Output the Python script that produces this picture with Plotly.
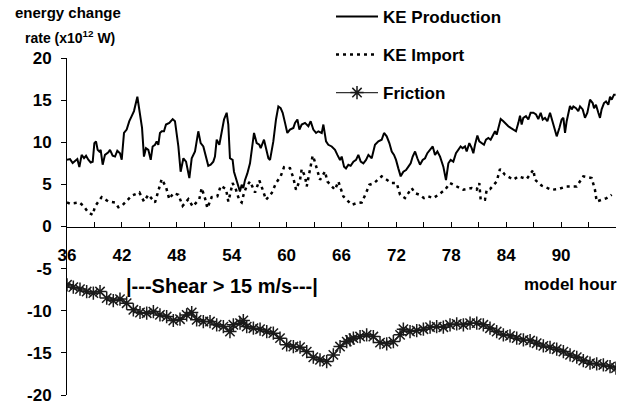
import plotly.graph_objects as go

# ---------------- data ----------------
prod_hours = [36.0, 36.33, 36.62, 36.87, 37.13, 37.35, 37.6, 37.86, 38.08, 38.33, 38.59, 38.81, 38.99, 39.17, 39.35, 39.53, 39.68, 39.9, 40.15, 40.52, 40.7, 40.99, 41.25, 41.5, 41.79, 41.98, 42.23, 42.52, 42.81, 43.07, 43.32, 43.69, 43.98, 44.2, 44.41, 44.63, 44.89, 45.15, 45.36, 45.62, 45.8, 45.98, 46.16, 46.35, 46.6, 46.82, 47.18, 47.55, 47.8, 47.98, 48.17, 48.42, 48.72, 49.01, 49.37, 49.63, 49.99, 50.35, 50.61, 50.9, 51.15, 51.44, 51.7, 51.99, 52.17, 52.36, 52.65, 52.9, 53.16, 53.45, 53.63, 53.81, 54.1, 54.25, 54.54, 54.9, 55.09, 55.27, 55.45, 55.71, 56.0, 56.29, 56.44, 56.73, 57.02,
              57.17, 57.53, 57.75, 58.01, 58.19, 58.55, 58.84, 59.1, 59.35, 59.57, 59.83, 60.08, 60.37, 60.74, 60.92, 61.18, 61.4, 61.65, 62.01, 62.38, 62.63, 62.92, 63.22, 63.47, 63.84, 64.02, 64.31, 64.56, 64.93, 65.29, 65.55, 65.84, 66.02, 66.28, 66.49, 66.75, 67.0, 67.3, 67.59, 67.84, 68.1, 68.39, 68.68, 68.94, 69.3, 69.66, 70.03, 70.39, 70.65, 70.94, 71.23, 71.49, 71.74, 71.96, 72.21, 72.47, 72.76, 73.05, 73.31, 73.56, 73.78, 74.04, 74.29, 74.58, 74.87, 75.13, 75.38, 75.68, 75.97, 76.22, 76.48, 76.77,
              76.84, 77.13, 77.42, 77.68, 77.93, 78.22, 78.51, 78.77, 79.02, 79.24, 79.5, 79.68, 79.97, 80.23, 80.41, 80.59, 80.85, 81.06, 81.32, 81.57, 81.79, 82.05, 82.3, 82.52, 82.78, 82.96, 83.14, 83.4, 83.69, 83.98, 84.23, 84.49, 84.78, 85.07, 85.33, 85.51, 85.69, 85.87, 86.16, 86.42, 86.67, 86.97, 87.26, 87.51, 87.77, 87.99, 88.24, 88.5, 88.79, 89.08, 89.33, 89.52, 89.81, 90.06, 90.25, 90.43, 90.61, 90.79, 90.97, 91.16, 91.34, 91.63, 91.88, 92.07, 92.36, 92.61, 92.87, 93.16, 93.45, 93.6, 93.81, 94.07, 94.25, 94.43, 94.69, 94.91, 95.16, 95.35, 95.53, 95.78, 95.96]
ke_production = [7.92, 8.0, 7.53, 7.72, 8.0, 7.05, 8.5, 8.12, 8.4, 7.92, 7.6, 7.68, 9.9, 10.1, 9.1, 8.9, 9.1, 7.33, 8.5, 8.8, 9.1, 8.4, 8.3, 9.0, 8.7, 7.92, 11.1, 11.5, 12.5, 13.1, 13.7, 15.4, 13.5, 11.7, 8.3, 9.3, 9.1, 7.92, 9.5, 9.7, 10.1, 9.7, 11.1, 11.3, 11.3, 12.1, 12.3, 12.75, 12.5, 11.3, 9.5, 6.5, 8.1, 7.7, 5.75, 8.1, 8.9, 11.3, 9.9, 9.5, 8.5, 7.2, 7.33, 7.7, 8.3, 10.3, 9.7, 11.1, 12.7, 13.5, 12.1, 8.1, 7.9, 6.5, 5.5, 4.15, 4.95, 4.55, 5.5, 6.3, 7.5, 9.7, 11.1, 9.9, 9.7,
                 9.3, 10.3, 9.3, 8.1, 7.9, 10.1, 12.7, 14.25, 14.05, 13.5, 12.3, 11.1, 11.5, 11.7, 12.3, 12.7, 11.5, 12.1, 12.3, 11.9, 12.5, 11.5, 11.1, 11.3, 11.1, 12.1, 10.1, 9.7, 9.5, 9.1, 8.5, 7.9, 8.3, 7.1, 6.9, 7.33, 7.2, 7.7, 7.9, 8.5, 7.7, 7.5, 7.9, 8.5, 8.1, 9.7, 10.1, 10.3, 11.1, 10.7, 9.9, 8.9, 8.5, 7.9, 6.9, 5.95, 6.5, 6.7, 7.1, 7.5, 8.3, 8.9, 8.1, 7.33, 7.9, 8.1, 8.7, 9.1, 9.5, 8.5, 8.9, 8.3,
                 8.1, 7.1, 5.5, 7.5, 7.9, 7.7, 8.7, 9.1, 9.5, 9.3, 9.5, 8.9, 9.9, 9.3, 8.7, 9.7, 10.8, 10.1, 9.9, 9.7, 10.3, 10.5, 10.3, 10.7, 11.3, 10.9, 11.6, 12.75, 12.5, 12.1, 11.9, 11.7, 11.5, 11.3, 12.3, 13.15, 12.1, 12.9, 13.1, 12.7, 13.5, 13.5, 13.3, 12.75, 13.5, 12.7, 12.9, 12.5, 13.5, 12.5, 11.5, 10.7, 11.7, 12.7, 12.9, 11.1, 12.5, 13.5, 14.3, 13.9, 14.25, 14.05, 13.7, 14.25, 13.9, 12.9, 13.5, 15.05, 14.65, 14.05, 14.45, 13.5, 12.9, 13.9, 14.65, 14.85, 14.45, 15.4, 15.05, 15.65, 15.65]

import_hours = [36.0, 36.33, 37.35, 37.79, 38.33, 38.81, 39.06, 39.79, 40.52, 41.25, 41.61, 41.98, 43.07, 43.91, 44.41, 44.89, 45.62, 45.98, 46.35, 46.82, 47.18, 47.62, 48.17, 48.64, 49.26, 49.74, 50.46, 50.72, 51.08, 51.34, 51.81, 52.43, 52.8, 53.38, 53.63, 53.81, 54.1, 54.47, 54.83, 55.09, 55.34, 55.63, 56.0, 56.55, 57.02,
                57.39, 57.75, 58.37, 58.84, 59.35, 59.72, 60.37, 60.74, 61.03, 61.47, 61.65, 62.01, 62.2, 62.63, 62.85, 63.0, 63.29, 63.65, 64.2, 64.45, 65.29, 65.66, 66.2, 67.11, 67.66, 68.21, 68.68, 69.04, 69.55, 70.39, 71.49, 72.03, 72.4, 72.94, 73.67, 74.04, 74.51, 75.02, 75.49, 76.04, 76.59,
                77.31, 77.86, 78.41, 79.32, 80.23, 80.77, 81.06, 81.21, 81.68, 81.87, 82.23, 82.96, 83.32, 83.87, 84.78, 85.33, 86.24, 86.97, 87.15, 87.88, 88.97, 89.7, 90.61, 91.16, 91.7, 92.43, 93.34, 93.7, 93.89, 94.43, 94.98, 95.53]
ke_import = [2.85, 2.7, 2.85, 2.45, 1.66, 1.38, 2.38, 3.49, 2.97, 2.85, 2.3, 2.45, 3.65, 4.04, 2.97, 3.77, 2.85, 4.16, 5.63, 4.68, 3.25, 3.96, 3.77, 2.45, 3.25, 2.38, 3.25, 4.56, 3.37, 2.18, 3.49, 3.57, 4.84, 4.44, 2.97, 3.77, 5.15, 4.36, 3.1, 2.85, 3.96, 4.76, 5.35, 4.04, 5.47,
             4.36, 3.17, 3.96, 5.15, 5.95, 7.05, 6.93, 5.75, 4.36, 5.55, 6.81, 5.95, 4.76, 7.33, 8.4, 8.0, 6.93, 5.55, 6.54, 5.35, 4.36, 5.35, 3.57, 2.58, 2.77, 2.85, 3.96, 4.95, 5.15, 5.95, 5.15, 5.15, 3.77, 3.37, 4.56, 3.96, 3.77, 3.37, 3.57, 3.37, 3.77,
             4.36, 5.15, 4.84, 4.36, 4.56, 4.36, 5.15, 3.17, 3.17, 4.36, 4.44, 5.35, 6.81, 6.14, 5.55, 5.95, 5.63, 6.73, 5.55, 4.84, 4.36, 4.44, 4.76, 4.76, 4.76, 5.95, 5.75, 4.36, 2.97, 3.17, 3.37, 3.77]

fric_hours = [36.0, 36.69, 37.42, 38.15, 38.88, 39.61, 40.34, 41.06, 41.79, 42.52, 43.25, 43.98, 44.71, 45.44, 46.16, 46.89, 47.62, 48.35, 49.08, 49.63, 50.17, 50.9, 51.63, 52.36, 53.09, 53.81, 54.18, 54.91, 55.27, 55.64, 56.37, 57.1, 57.83, 58.55, 59.28, 60.01, 60.74, 61.47, 62.2, 62.92, 63.65, 64.38, 65.11, 65.84, 66.57, 66.93,
              67.3, 68.03, 68.75, 69.48, 70.21, 70.94, 71.67, 72.4, 72.76, 73.49, 74.22, 74.95, 75.68, 76.4, 77.13, 77.86, 78.59, 79.32, 80.05, 80.78, 81.5, 82.23, 82.96, 83.69, 84.42, 85.15, 85.88, 86.61, 87.33, 88.06, 88.79, 89.52, 90.25, 90.98, 91.71, 92.43, 93.16, 93.89, 94.62, 95.35, 96.0]
friction = [-6.92, -7.2, -7.43, -7.72, -7.91, -7.72, -8.5, -8.79, -8.62, -9.1, -9.89, -10.21, -10.29, -10.1, -10.49, -10.69, -11.16, -11.0, -10.49, -10.21, -11.08, -11.28, -11.28, -11.67, -11.88, -12.47, -11.67, -11.47, -11.16, -11.88, -12.07, -12.19, -12.47, -12.66, -13.25, -14.05, -14.25, -14.33, -14.85, -15.52, -15.83, -16.03, -15.24, -14.25, -13.66, -13.46,
            -13.25, -13.06, -12.86, -13.06, -13.78, -13.93, -13.66, -12.86, -12.19, -12.47, -12.35, -12.19, -11.95, -11.88, -11.95, -11.67, -11.56, -11.67, -11.47, -11.47, -11.67, -12.07, -12.47, -12.86, -12.98, -13.25, -13.46, -13.54, -13.85, -14.17, -14.33, -14.56, -14.85, -15.24, -15.52, -15.91, -16.22, -16.31, -16.43, -16.63, -16.8]

x_label_vals = [36, 42, 48, 54, 60, 66, 72, 78, 84, 90]
x_label_text = ["36", "42", "48", "54", "60", "66", "72", "78", "84", "90"]
x_minor_vals = [39, 45, 51, 57, 63, 69, 75, 81, 87, 93, 96]
y_tick_vals = [20, 15, 10, 5, 0, -5, -10, -15, -20]
y_tick_text = ["20", "15", "10", "5", "0", "-5", "-10", "-15", "-20"]

FONT = "Liberation Sans, Arial, sans-serif"
L, R, T, B, W, H = 67, 17, 58, 11, 633, 406
PW, PH = W - L - R, H - T - B


def px(x):
    return (x - L) / PW


def py(y):
    return (H - B - y) / PH


fig = go.Figure()
fig.add_trace(go.Scatter(x=prod_hours, y=ke_production, mode="lines", name="KE Production",
                         line=dict(color="black", width=2), legend="legend"))
fig.add_trace(go.Scatter(x=import_hours, y=ke_import, mode="lines", name="KE Import",
                         line=dict(color="black", width=2.5, dash="3px,4px"), legend="legend2"))
fig.add_trace(go.Scatter(x=fric_hours, y=friction, mode="lines+markers", name="Friction",
                         line=dict(color="#333333", width=1.2), legend="legend3",
                         marker=dict(symbol="asterisk-open", size=11, color="#1a1a1a",
                                     line=dict(width=1.5, color="#1a1a1a"))))

leg_common = dict(x=px(331), xanchor="left", yanchor="middle",
                  bgcolor="rgba(0,0,0,0)", borderwidth=0, itemwidth=42,
                  font=dict(family=FONT, size=17, weight="bold", color="black"))

fig.update_layout(
    width=W, height=H,
    margin=dict(l=L, r=R, t=T, b=B, autoexpand=False),
    paper_bgcolor="white", plot_bgcolor="white",
    font=dict(family=FONT, color="black", size=16, weight="bold"),
    showlegend=True,
    legend=dict(y=py(17), **leg_common),
    legend2=dict(y=py(55), **leg_common),
    legend3=dict(y=py(93), **leg_common),
    xaxis=dict(range=[36, 96], anchor="free", position=0.5,
               tickmode="array", tickvals=x_label_vals, ticktext=x_label_text,
               ticks="inside", ticklen=5, tickcolor="black", tickwidth=1,
               showline=True, linecolor="black", linewidth=1,
               showgrid=False, zeroline=False,
               ticklabelstandoff=13,
               tickfont=dict(family=FONT, size=17, weight="bold"),
               minor=dict(tickvals=x_minor_vals, ticks="inside", ticklen=5,
                          tickcolor="black", tickwidth=1, showgrid=False)),
    yaxis=dict(range=[-20, 20], tickmode="array", tickvals=y_tick_vals, ticktext=y_tick_text,
               ticks="outside", ticklen=5, tickcolor="black", tickwidth=1,
               showline=True, linecolor="black", linewidth=1,
               showgrid=False, zeroline=False,
               ticklabelstandoff=6,
               tickfont=dict(family=FONT, size=17, weight="bold")),
)

fig.add_annotation(text="energy change", xref="paper", yref="paper",
                   x=px(68), y=py(13), xanchor="center", yanchor="middle",
                   showarrow=False, font=dict(family=FONT, size=15, weight="bold"))
fig.add_annotation(text="rate (x10<sup>12</sup> W)", xref="paper", yref="paper",
                   x=px(70), y=py(37), xanchor="center", yanchor="middle",
                   showarrow=False, font=dict(family=FONT, size=14, weight="bold"))
fig.add_annotation(text="model hour", xref="paper", yref="paper",
                   x=px(619), y=py(284), xanchor="right", yanchor="middle",
                   showarrow=False, font=dict(family=FONT, size=17, weight="bold"))
fig.add_annotation(text="|---Shear > 15 m/s---|", xref="paper", yref="paper",
                   x=px(222), y=py(286), xanchor="center", yanchor="middle",
                   showarrow=False, font=dict(family=FONT, size=20, weight="bold"))

fig.write_html("out.html")
